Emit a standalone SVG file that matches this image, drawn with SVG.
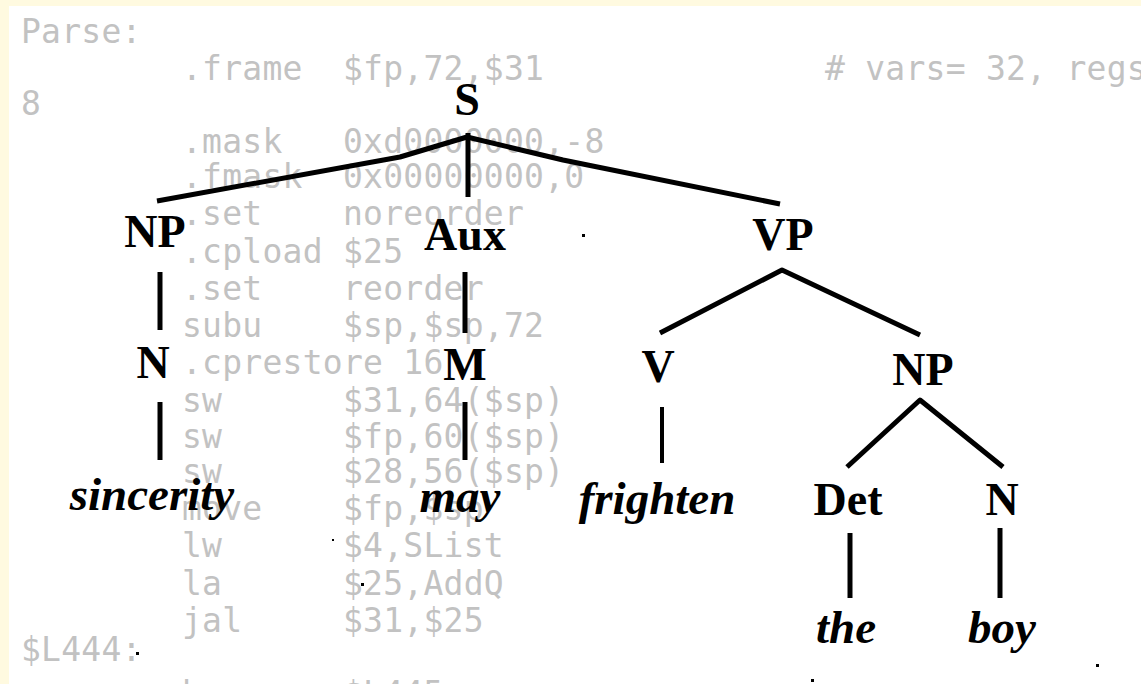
<svg xmlns="http://www.w3.org/2000/svg" width="1141" height="684" viewBox="0 0 1141 684">
  <style>
    .code { font-family: "DejaVu Sans Mono", "Liberation Mono", monospace; font-size: 33px; letter-spacing: 0.25px; fill: #c2c2c2; }
    .cat { font-family: "Liberation Serif", "Times New Roman", serif; font-weight: bold; font-size: 46px; fill: #000; text-anchor: middle; }
    .word { font-family: "Liberation Serif", "Times New Roman", serif; font-weight: bold; font-style: italic; font-size: 47px; fill: #000; text-anchor: middle; }
    .edge { fill: none; stroke: #000; stroke-width: 5; stroke-linejoin: round; }
    .thin { stroke-width: 4; }
    .dot { fill: #000; }
  </style>

  <!-- page frame -->
  <rect x="0" y="0" width="1141" height="684" fill="#fffae0"/>
  <rect x="9" y="6" width="1132" height="678" fill="#ffffff"/>

  <!-- assembly listing printed faintly behind the tree -->
  <g id="listing" class="code">
    <text x="21" y="43">Parse:</text>
    <text x="182" y="80">.frame</text><text x="343" y="80">$fp,72,$31</text><text x="825" y="80"># vars= 32, regs= 3/0, args= 16, extra=</text>
    <text x="21" y="115">8</text>
    <text x="182" y="153">.mask</text><text x="343" y="153">0xd0000000,-8</text>
    <text x="182" y="188">.fmask</text><text x="343" y="188">0x00000000,0</text>
    <text x="182" y="225">.set</text><text x="343" y="225">noreorder</text>
    <text x="182" y="263">.cpload</text><text x="343" y="263">$25</text>
    <text x="182" y="300">.set</text><text x="343" y="300">reorder</text>
    <text x="182" y="337">subu</text><text x="343" y="337">$sp,$sp,72</text>
    <text x="182" y="374">.cprestore 16</text>
    <text x="182" y="412">sw</text><text x="343" y="412">$31,64($sp)</text>
    <text x="182" y="448">sw</text><text x="343" y="448">$fp,60($sp)</text>
    <text x="182" y="483">sw</text><text x="343" y="483">$28,56($sp)</text>
    <text x="182" y="520">move</text><text x="343" y="520">$fp,$sp</text>
    <text x="182" y="557">lw</text><text x="343" y="557">$4,SList</text>
    <text x="182" y="595">la</text><text x="343" y="595">$25,AddQ</text>
    <text x="182" y="632">jal</text><text x="343" y="632">$31,$25</text>
    <text x="21" y="661">$L444:</text>
    <text x="182" y="705">b</text><text x="343" y="705">$L445</text>
  </g>

  <!-- tree branches -->
  <g id="connectors" class="edge">
    <polyline points="157,201 400,157 467,137 563,160 780,204"/>
    <line x1="468" y1="133" x2="468" y2="197"/>
    <line x1="160" y1="272" x2="160" y2="330"/>
    <line x1="160" y1="402" x2="160" y2="460"/>
    <line x1="465" y1="272" x2="465" y2="333"/>
    <line x1="465" y1="402" x2="465" y2="460"/>
    <polyline points="660,333 782,270 920,335"/>
    <line class="thin" x1="662" y1="407" x2="662" y2="463"/>
    <polyline points="847,467 920,400 1003,467"/>
    <line x1="850" y1="533" x2="850" y2="598"/>
    <line x1="1000" y1="528" x2="1000" y2="598"/>
  </g>

  <!-- category nodes -->
  <g id="node-S"><text class="cat" x="467" y="115">S</text></g>
  <g id="node-NP1"><text class="cat" x="155" y="247">NP</text></g>
  <g id="node-Aux"><text class="cat" x="465" y="250">Aux</text></g>
  <g id="node-VP"><text class="cat" x="783" y="250">VP</text></g>
  <g id="node-N1"><text class="cat" x="153" y="378">N</text></g>
  <g id="node-M"><text class="cat" x="465" y="380">M</text></g>
  <g id="node-V"><text class="cat" x="658" y="382">V</text></g>
  <g id="node-NP2"><text class="cat" x="923" y="385">NP</text></g>
  <g id="node-Det"><text class="cat" x="848" y="515">Det</text></g>
  <g id="node-N2"><text class="cat" x="1002" y="515">N</text></g>

  <!-- leaf words -->
  <g id="word-sincerity"><text class="word" x="152" y="510">sincerity</text></g>
  <g id="word-may"><text class="word" x="460" y="512">may</text></g>
  <g id="word-frighten"><text class="word" x="657" y="514">frighten</text></g>
  <g id="word-the"><text class="word" x="846" y="643">the</text></g>
  <g id="word-boy"><text class="word" x="1002" y="643">boy</text></g>

  <!-- specks -->
  <g id="specks" class="dot">
    <rect x="582" y="234" width="3" height="3"/>
    <rect x="332" y="539" width="2" height="2"/>
    <rect x="361" y="583" width="3" height="3"/>
    <rect x="136" y="652" width="3" height="3"/>
    <rect x="1096" y="664" width="3" height="3"/>
    <rect x="811" y="679" width="3" height="3"/>
  </g>
</svg>
